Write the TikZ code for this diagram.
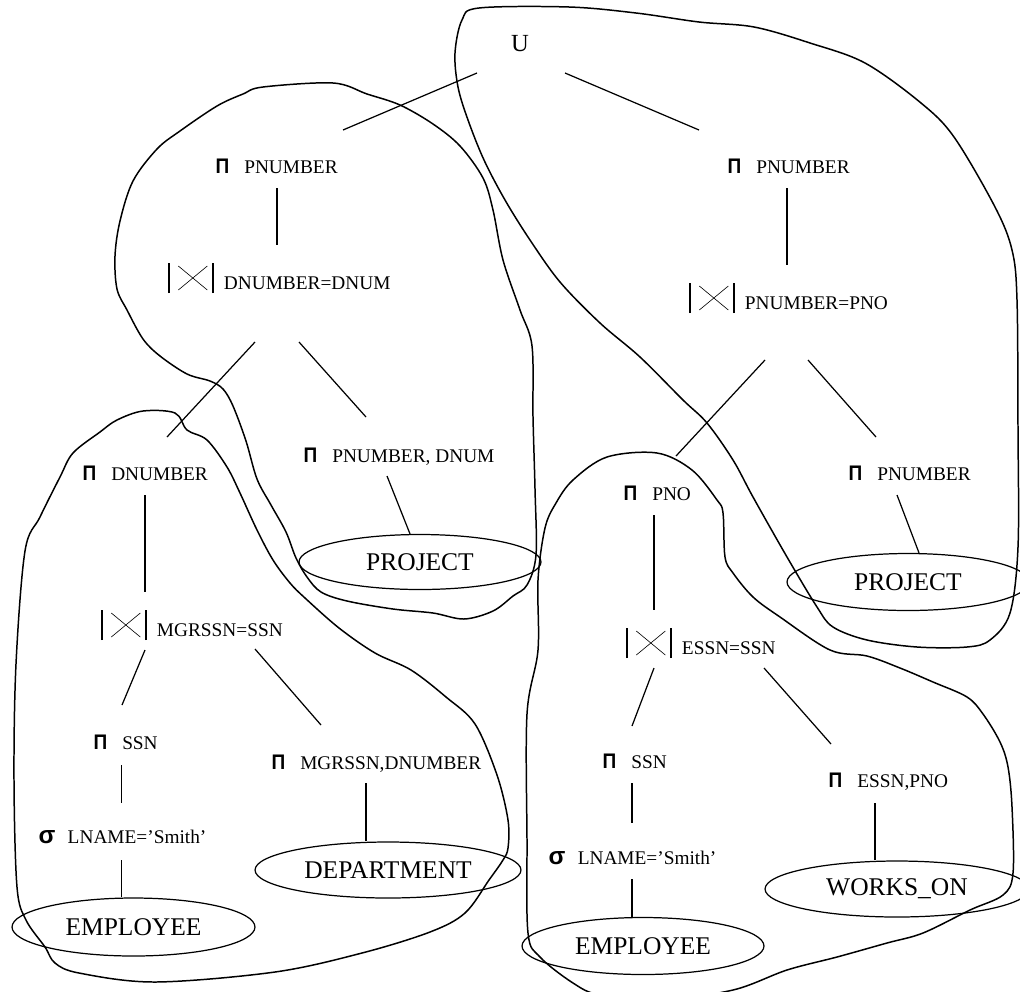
\documentclass[tikz,border=0pt]{standalone}
\usepackage{fontspec}
\setmainfont{Liberation Serif}
\newfontfamily\opfont{Liberation Sans}
\usepackage{graphicx}
\usetikzlibrary{shapes.geometric}

% operator glyphs of the query trees
\newcommand{\projop}{{\opfont\bfseries\fontsize{12}{12}\selectfont\scalebox{0.9}[1]{Π}}\hspace{8.5pt}}
\newcommand{\selop}{{\opfont\bfseries\fontsize{14}{14}\selectfont σ}\hspace{7pt}}
\newcommand{\joinop}{\tikz[x=0.02cm, y=0.02cm, baseline=0.08cm]{%
    \draw[line width=1.1pt] (0,0) -- (0,30) (44,0) -- (44,30);
    \draw[line width=0.35pt] (9,3) -- (38,27) (9,27) -- (38,3);}\hspace{5.5pt}}

\begin{document}
\begin{tikzpicture}[
      x=0.02cm, y=-0.02cm, % one unit = one pixel of the drawing
      line width=0.7pt,
      lbl/.style={
        inner sep=0pt,
        anchor=base west,
        font=\fontsize{11}{13}\selectfont
      },
      rel/.style={
        ellipse,
        draw,
        inner sep=0pt,
        font=\fontsize{14.5}{16}\selectfont
      },
      blob/.style={line width=0.85pt, tension=0.55}
    ]
    \useasboundingbox (0,0) rectangle (1020,991);

    \node[font=\fontsize{14}{16}\selectfont] (u) at (520,44) {U};

    % left tree
    \node[lbl] (pl) at (215,173) {\projop PNUMBER};
    \node[lbl] (jl) at (168,289) {\joinop DNUMBER=DNUM};
    \node[lbl] (pdn) at (82,480) {\projop DNUMBER};
    \node[lbl] (ppd) at (303,462) {\projop PNUMBER, DNUM};
    \node[rel, minimum width=4.84cm, minimum height=1.10cm] (prl) at (420,562) {PROJECT};
    \node[lbl] (jm) at (101,636) {\joinop MGRSSN=SSN};
    \node[lbl] (psl) at (93,749) {\projop SSN};
    \node[lbl] (sgl) at (38,843) {\selop LNAME=’Smith’};
    \node[rel, minimum width=4.86cm, minimum height=1.16cm] (el) at (133.5,927) {EMPLOYEE};
    \node[lbl] (pmd) at (271,769) {\projop MGRSSN,DNUMBER};
    \node[rel, minimum width=5.32cm, minimum height=1.12cm] (dep) at (388,870) {DEPARTMENT};

    % right tree
    \node[lbl] (pr) at (727,173) {\projop PNUMBER};
    \node[lbl] (jr) at (689,309) {\joinop PNUMBER=PNO};
    \node[lbl] (ppn) at (623,500) {\projop PNO};
    \node[lbl] (ppr) at (848,480) {\projop PNUMBER};
    \node[rel, minimum width=4.84cm, minimum height=1.14cm] (prr) at (908,582) {PROJECT};
    \node[lbl] (je) at (626,654) {\joinop ESSN=SSN};
    \node[lbl] (psr) at (602,768) {\projop SSN};
    \node[lbl] (sgr) at (548,864) {\selop LNAME=’Smith’};
    \node[rel, minimum width=4.84cm, minimum height=1.14cm] (er) at (643,946) {EMPLOYEE};
    \node[lbl] (pep) at (828,787) {\projop ESSN,PNO};
    \node[rel, minimum width=5.28cm, minimum height=1.12cm] (wo) at (897,889) {WORKS\_ON};

    % edges
    \draw ([shift={(-43,29)}]u.center) -- ([shift={(128,-43)}]pl.base west);
    \draw ([shift={(45,29)}]u.center) -- ([shift={(-28,-43)}]pr.base west);
    \draw ([shift={(62,15)}]pl.base west) -- ([shift={(109,-44)}]jl.base west);
    \draw ([shift={(87,53)}]jl.base west) -- ([shift={(85,-43)}]pdn.base west);
    \draw ([shift={(131,53)}]jl.base west) -- ([shift={(63,-45)}]ppd.base west);
    \draw ([shift={(84,14)}]ppd.base west) -- ([shift={(-10,0)}]prl.north);
    \draw ([shift={(63,15)}]pdn.base west) -- ([shift={(44,-44)}]jm.base west);
    \draw ([shift={(44,14)}]jm.base west) -- ([shift={(29,-44)}]psl.base west);
    \draw ([shift={(154,13)}]jm.base west) -- ([shift={(50,-44)}]pmd.base west);
    \draw ([shift={(28.5,16)}]psl.base west) -- ([shift={(83.5,-40)}]sgl.base west);
    \draw ([shift={(83.5,17)}]sgl.base west) -- ([shift={(-12,0)}]el.north);
    \draw ([shift={(95,14)}]pmd.base west) -- ([shift={(-22,0)}]dep.north);

    \draw ([shift={(60,15)}]pr.base west) -- ([shift={(98,-44)}]jr.base west);
    \draw ([shift={(76,51)}]jr.base west) -- ([shift={(53,-44)}]ppn.base west);
    \draw ([shift={(119,51)}]jr.base west) -- ([shift={(28,-43)}]ppr.base west);
    \draw ([shift={(49,15)}]ppr.base west) -- ([shift={(11,0)}]prr.north);
    \draw ([shift={(31,15)}]ppn.base west) -- ([shift={(28,-44)}]je.base west);
    \draw ([shift={(28,14)}]je.base west) -- ([shift={(30,-42)}]psr.base west);
    \draw ([shift={(138,14)}]je.base west) -- ([shift={(3,-43)}]pep.base west);
    \draw ([shift={(30,15)}]psr.base west) -- ([shift={(84,-41)}]sgr.base west);
    \draw ([shift={(84,15)}]sgr.base west) -- ([shift={(-11,0)}]er.north);
    \draw ([shift={(47,16)}]pep.base west) -- ([shift={(-22,0)}]wo.north);

    % hand drawn groupings
    \draw[blob] plot[smooth cycle] coordinates {(479,8) (569,7) (636,13) (699,22)
      (754,27) (810,43) (865,63) (921,103) (954,137) (995,207) (1012,250) (1017,300)
      (1018,430) (1018,547) (1010,613) (990,640) (967,647) (917,647) (867,640)
      (833,627) (817,607) (787,557) (753,497) (733,460) (707,423) (683,400) (640,357)
      (600,323) (560,282) (530,240) (505,200) (484,160) (468,120) (458,87) (455,53)
      (462,20)};
    \draw[blob] plot[smooth cycle] coordinates {(263,87) (333,83) (367,94) (400,105)
      (433,124) (460,146) (483,178) (493,210) (503,260) (520,310) (532,346) (533,417)
      (535,489) (536,555) (527,585) (513,596) (493,611) (464,619) (433,613) (393,609)
      (347,601) (321,592) (307,577) (296,558) (286,532) (271,505) (257,479) (246,441)
      (233,406) (223,389) (210,381) (187,374) (160,356) (143,339) (127,310) (117,289)
      (115,256) (120,221) (133,181) (157,149) (180,131) (217,106) (243,94)};
    \draw[blob] plot[smooth cycle] coordinates {(117,420) (143,411) (175,413)
      (187,430) (207,440) (227,467) (240,493) (257,530) (273,560) (290,583) (305,598)
      (339,628) (375,653) (411,670) (446,697) (475,724) (497,775) (508,820) (508,848)
      (503,860) (489,880) (465,913) (430,932) (362,953) (275,972) (155,982) (79,973)
      (55,963) (45,947) (26,920) (17,887) (14,780) (16,664) (25,551) (40,517) (60,477)
      (73,453) (100,432)};
    \draw[blob] plot[smooth cycle] coordinates {(607,457) (657,453) (692,470)
      (717,500) (723,513) (725,557) (733,573) (753,597) (780,617) (830,650) (867,656)
      (900,668) (933,682) (967,697) (983,714) (1000,742) (1008,767) (1012,807)
      (1013,873) (1003,895) (970,910) (923,933) (887,943) (837,957) (787,970)
      (733,990) (660,1000) (600,995) (573,983) (540,957) (528,933) (527,840) (527,714)
      (538,650) (538,580) (545,528) (556,503) (573,480)};
  \end{tikzpicture}
\end{document}
